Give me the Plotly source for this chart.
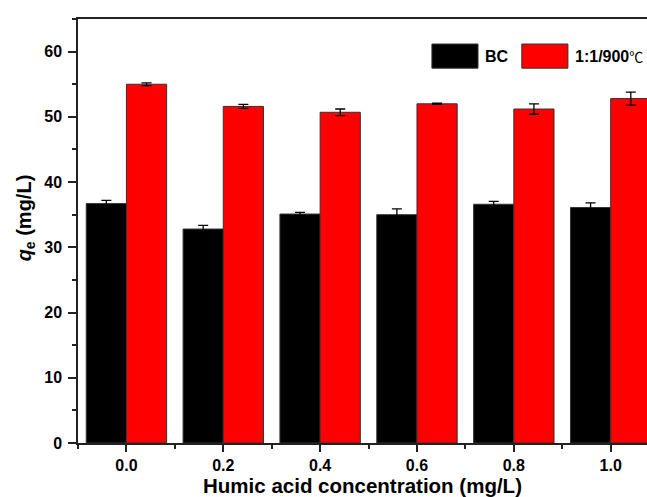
import plotly.graph_objects as go

concentrations = [0.0, 0.2, 0.4, 0.6, 0.8, 1.0]
bc_values = [36.7, 32.8, 35.1, 35.0, 36.6, 36.1]
bc_errors = [0.5, 0.55, 0.25, 0.9, 0.45, 0.7]
hc_values = [55.0, 51.6, 50.7, 52.0, 51.2, 52.8]
hc_errors = [0.2, 0.3, 0.5, 0.1, 0.8, 1.0]
series_names = ["BC", "1:1/900℃"]
x_ticks = [0.0, 0.2, 0.4, 0.6, 0.8, 1.0]
x_tick_labels = ["0.0", "0.2", "0.4", "0.6", "0.8", "1.0"]
y_ticks = [0, 10, 20, 30, 40, 50, 60]

FONT = "Liberation Sans, Arial, sans-serif"
CJK = "Noto Sans CJK SC"
AXIS_COLOR = "#222222"

fig = go.Figure()
fig.add_trace(go.Bar(
    x=concentrations, y=bc_values, name=series_names[0],
    marker=dict(color="black", line=dict(color="#333333", width=1)),
    error_y=dict(type="data", array=bc_errors, color="black", thickness=1.3, width=5),
    showlegend=False,
))
fig.add_trace(go.Bar(
    x=concentrations, y=hc_values, name=series_names[1],
    marker=dict(color="#ff0000", line=dict(color="#333333", width=1)),
    error_y=dict(type="data", array=hc_errors, color="black", thickness=1.3, width=5),
    showlegend=False,
))

fig.update_layout(
    width=647, height=497,
    margin=dict(l=78, r=0, t=19, b=54),
    paper_bgcolor="white", plot_bgcolor="white",
    barmode="group", bargap=0.17, bargroupgap=0,
    font=dict(family=FONT, size=16, color="black"),
    xaxis=dict(
        range=[-0.1, 1.075], tickvals=x_ticks, ticktext=x_tick_labels,
        showgrid=False, zeroline=False,
        showline=True, linecolor=AXIS_COLOR, linewidth=1.5, mirror=True,
        ticks="outside", ticklen=7, tickwidth=1.5, tickcolor=AXIS_COLOR,
        minor=dict(dtick=0.1, tick0=0.1, ticks="outside", ticklen=4, tickwidth=1.5, tickcolor=AXIS_COLOR),
        tickfont=dict(family=FONT, size=16, color="black", weight="bold"),
        title=dict(text="<b>Humic acid concentration (mg/L)</b>", font=dict(family=FONT, size=20.5), standoff=8),
    ),
    yaxis=dict(
        range=[0, 65], tickvals=y_ticks,
        showgrid=False, zeroline=False,
        showline=True, linecolor=AXIS_COLOR, linewidth=1.5,
        ticks="outside", ticklen=8, tickwidth=1.5, tickcolor=AXIS_COLOR,
        minor=dict(dtick=5, ticks="outside", ticklen=4, tickwidth=1.5, tickcolor=AXIS_COLOR),
        tickfont=dict(family=FONT, size=16, color="black", weight="bold"),
        ticklabelstandoff=3,
    ),
)

# y-axis title
fig.add_annotation(
    text="<b><i>q</i><sub>e</sub> (mg/L)</b>", textangle=-90,
    xref="paper", yref="paper", x=-0.093, y=0.53, xanchor="center", yanchor="middle",
    showarrow=False, font=dict(family=FONT, size=20, color="black"),
)

# legend drawn as swatches + labels
legend_items = [
    ("<b>BC</b>", "black", 0.622, 0.703, 0.7115),
    (f"<b>1:1/900</b><span style='font-family:{CJK};font-size:14px'>℃</span>", "#ff0000", 0.780, 0.861, 0.8705),
]
for label, color, x0, x1, xt in legend_items:
    fig.add_shape(type="rect", xref="paper", yref="paper", x0=x0, x1=x1, y0=0.884, y1=0.941,
                  fillcolor=color, line=dict(color="#333333", width=1))
    fig.add_annotation(text=label, xref="paper", yref="paper", x=xt, y=0.9125,
                       xanchor="left", yanchor="middle", showarrow=False,
                       font=dict(family=FONT, size=16, color="black"))

fig.write_html("out.html", config={"displayModeBar": False},
               post_script="document.body.style.margin='0';document.body.style.overflow='hidden';")
